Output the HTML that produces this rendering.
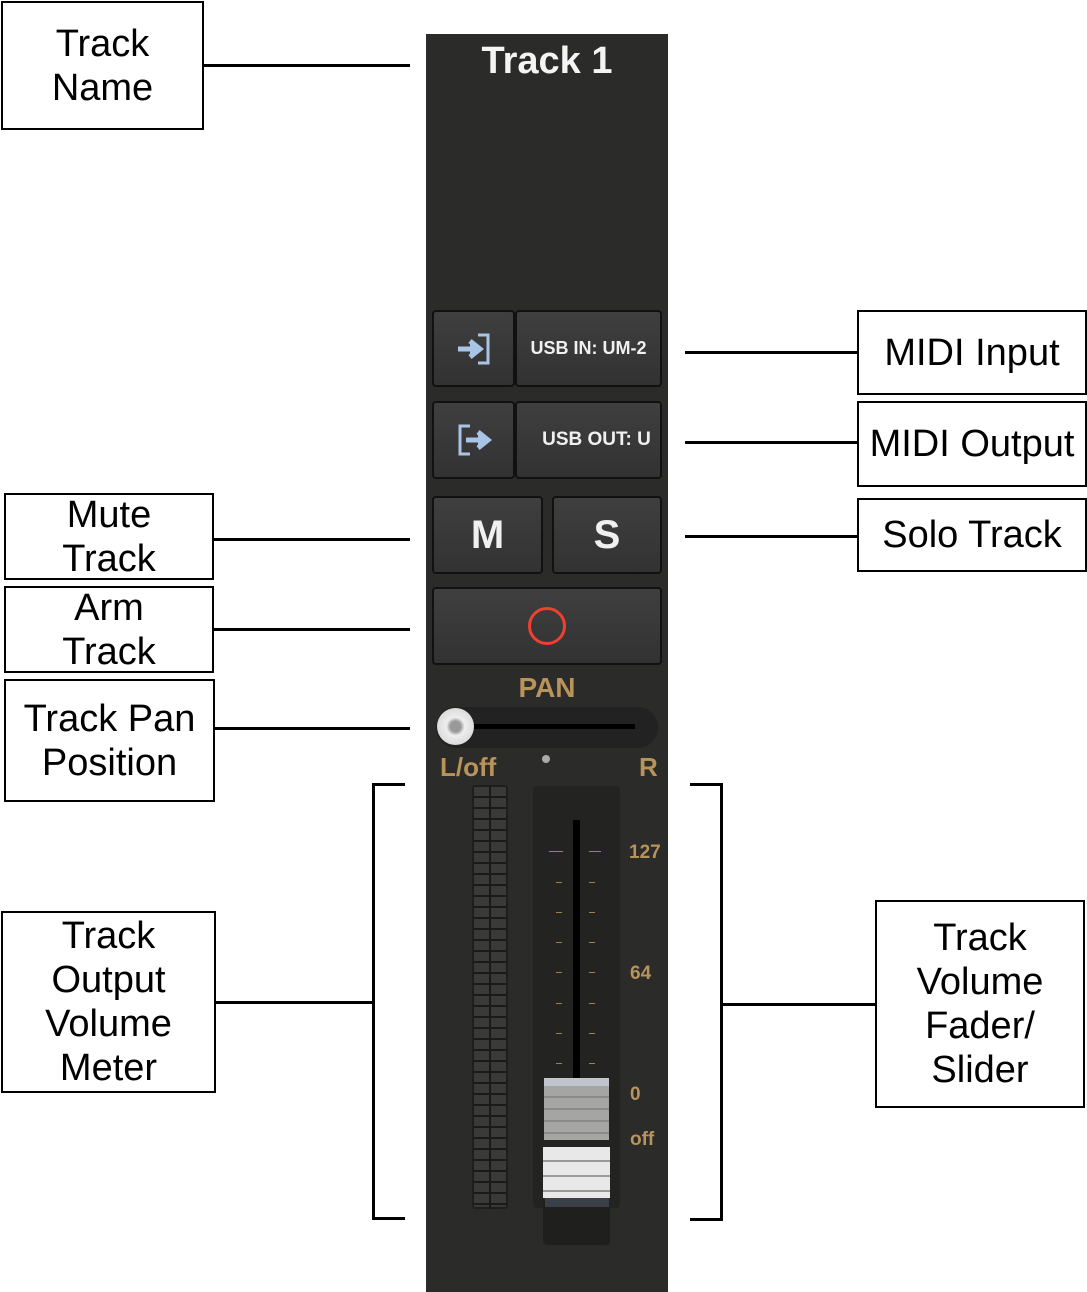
<!DOCTYPE html><html><head><style>
body{margin:0;width:1087px;height:1292px;background:#fff;position:relative;overflow:hidden;font-family:"Liberation Sans",sans-serif}
.a{position:absolute}
.box{position:absolute;border:2px solid #000;box-sizing:border-box;display:flex;align-items:center;justify-content:center;text-align:center;font-size:38px;line-height:44px;color:#000;background:#fff}
.h{position:absolute;height:3px;background:#000}
.v{position:absolute;width:3px;background:#000}
.btn{position:absolute;background:linear-gradient(#3f3f3f,#323232);border:2px solid #111;border-radius:4px;box-sizing:border-box;color:#f0f0f0;font-weight:bold;display:flex;align-items:center;justify-content:center}
.gold{position:absolute;color:#b8935a;font-weight:bold;font-family:"Liberation Sans",sans-serif}
.tk{position:absolute;height:1px;background:#a08050}
</style></head><body>
<div class="a" style="left:426px;top:34px;width:242px;height:1258px;background:#2b2b29"></div>
<div class="a" style="left:426px;top:40px;width:242px;text-align:center;color:#f4f4f4;font-weight:bold;font-size:38px">Track 1</div>

<div class="btn" style="left:432px;top:310px;width:83px;height:77px"><svg width="36" height="34" viewBox="0 0 36 34"><path d="M2 17H22M14 9L24 17L14 25" stroke="#a8c4e6" stroke-width="5" fill="#a8c4e6"/><path d="M22 3H32V31H22" stroke="#a8c4e6" stroke-width="3" fill="none"/></svg></div>
<div class="btn" style="left:515px;top:310px;width:147px;height:77px;font-size:18px">USB IN: UM-2</div>
<div class="btn" style="left:432px;top:401px;width:83px;height:78px"><svg width="36" height="34" viewBox="0 0 36 34"><path d="M14 3H4V31H14" stroke="#a8c4e6" stroke-width="3" fill="none"/><path d="M10 17H28M22 9L32 17L22 25" stroke="#a8c4e6" stroke-width="5" fill="#a8c4e6"/></svg></div>
<div class="btn" style="left:515px;top:401px;width:147px;height:78px;font-size:19px;padding-left:16px">USB OUT: U</div>
<div class="btn" style="left:432px;top:496px;width:111px;height:78px;font-size:40px">M</div>
<div class="btn" style="left:552px;top:496px;width:110px;height:78px;font-size:40px">S</div>
<div class="btn" style="left:432px;top:587px;width:230px;height:78px"><div style="width:32px;height:32px;border:3px solid #f04030;border-radius:50%"></div></div>

<div class="gold" style="left:426px;width:242px;text-align:center;top:672px;font-size:28px">PAN</div>
<div class="a" style="left:436px;top:707px;width:222px;height:41px;border-radius:20px;background:#222"></div>
<div class="a" style="left:455px;top:724px;width:180px;height:5px;background:#000"></div>
<div class="a" style="left:437px;top:708px;width:37px;height:37px;border-radius:50%;background:radial-gradient(#999 20%,#eee 35%,#ccc)"></div>
<div class="gold" style="left:440px;top:752px;font-size:26px">L/off</div>
<div class="gold" style="left:639px;top:752px;font-size:26px">R</div>
<div class="a" style="left:542px;top:755px;width:8px;height:8px;border-radius:50%;background:#aaa"></div>

<div class="a" style="left:472px;top:785px;width:36px;height:424px;background:#1e1e1c;border-radius:3px;background-image:repeating-linear-gradient(#3a3a38 0 9px,#1a1a18 9px 11px);border:2px solid #1f1f1d;box-sizing:border-box"></div>
<div class="a" style="left:489px;top:785px;width:2px;height:424px;background:#1a1a18"></div>
<div class="a" style="left:533px;top:786px;width:87px;height:422px;background:#232321;border-radius:4px"></div>
<div class="a" style="left:573px;top:820px;width:7px;height:260px;background:#000"></div>
<div class="tk" style="left:549px;top:851px;width:14px"></div><div class="tk" style="left:589px;top:851px;width:12px"></div>
<div class="tk" style="left:556px;top:882px;width:6px"></div><div class="tk" style="left:589px;top:882px;width:6px"></div>
<div class="tk" style="left:556px;top:912px;width:6px"></div><div class="tk" style="left:589px;top:912px;width:6px"></div>
<div class="tk" style="left:556px;top:942px;width:6px"></div><div class="tk" style="left:589px;top:942px;width:6px"></div>
<div class="tk" style="left:556px;top:972px;width:6px"></div><div class="tk" style="left:589px;top:972px;width:6px"></div>
<div class="tk" style="left:556px;top:1003px;width:6px"></div><div class="tk" style="left:589px;top:1003px;width:6px"></div>
<div class="tk" style="left:556px;top:1033px;width:6px"></div><div class="tk" style="left:589px;top:1033px;width:6px"></div>
<div class="tk" style="left:556px;top:1063px;width:6px"></div><div class="tk" style="left:589px;top:1063px;width:6px"></div>
<div class="gold" style="left:629px;top:842px;font-size:19px">127</div>
<div class="gold" style="left:630px;top:963px;font-size:19px">64</div>
<div class="gold" style="left:630px;top:1084px;font-size:19px">0</div>
<div class="gold" style="left:630px;top:1129px;font-size:19px">off</div>
<div class="a" style="left:543px;top:1200px;width:67px;height:45px;background:#1f1f1d;border-radius:4px"></div>
<div class="a" style="left:544px;top:1078px;width:65px;height:62px;background:repeating-linear-gradient(#a5a5a3 0 10px,#8a8a88 10px 12px);border-top:8px solid #c0c4cc;box-sizing:border-box"></div>
<div class="a" style="left:543px;top:1147px;width:67px;height:51px;background:repeating-linear-gradient(#e8e8e8 0 13px,#999 13px 15px)"></div>
<div class="a" style="left:545px;top:1198px;width:64px;height:9px;background:#3a4048"></div>

<div class="box" style="left:1px;top:1px;width:203px;height:129px">Track<br>Name</div>
<div class="h" style="left:203px;top:64px;width:207px"></div>
<div class="box" style="left:857px;top:310px;width:230px;height:85px">MIDI Input</div>
<div class="h" style="left:685px;top:351px;width:172px"></div>
<div class="box" style="left:857px;top:401px;width:230px;height:86px">MIDI Output</div>
<div class="h" style="left:685px;top:441px;width:172px"></div>
<div class="box" style="left:857px;top:498px;width:230px;height:74px">Solo Track</div>
<div class="h" style="left:685px;top:535px;width:172px"></div>
<div class="box" style="left:4px;top:493px;width:210px;height:87px">Mute<br>Track</div>
<div class="h" style="left:213px;top:538px;width:197px"></div>
<div class="box" style="left:4px;top:586px;width:210px;height:87px">Arm<br>Track</div>
<div class="h" style="left:213px;top:628px;width:197px"></div>
<div class="box" style="left:4px;top:679px;width:211px;height:123px">Track Pan<br>Position</div>
<div class="h" style="left:214px;top:727px;width:196px"></div>
<div class="box" style="left:1px;top:911px;width:215px;height:182px">Track<br>Output<br>Volume<br>Meter</div>
<div class="h" style="left:215px;top:1001px;width:160px"></div>
<div class="v" style="left:372px;top:783px;height:437px"></div>
<div class="h" style="left:372px;top:783px;width:33px"></div>
<div class="h" style="left:372px;top:1217px;width:33px"></div>
<div class="box" style="left:875px;top:900px;width:210px;height:208px">Track<br>Volume<br>Fader/<br>Slider</div>
<div class="h" style="left:721px;top:1003px;width:154px"></div>
<div class="v" style="left:720px;top:783px;height:438px"></div>
<div class="h" style="left:690px;top:783px;width:33px"></div>
<div class="h" style="left:690px;top:1218px;width:33px"></div>
</body></html>
